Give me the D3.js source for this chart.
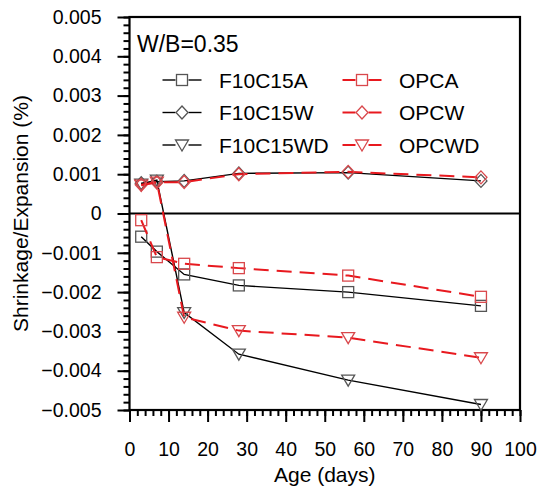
<!DOCTYPE html>
<html>
<head>
<meta charset="utf-8">
<script src="https://cdn.jsdelivr.net/npm/d3@7"></script>
<style>
  body { margin: 0; background: #fff; }
  text { font-family: "Liberation Sans", Arial, sans-serif; fill: #000; }
</style>
</head>
<body>
<svg width="540" height="490"></svg>
<script>
// ages in days
var days = [3, 7, 14, 28, 56, 90];

// shrinkage / expansion (%) per mix
var F10C15A  = [-0.00059, -0.00097, -0.00155, -0.00183, -0.00200, -0.00235];
var F10C15W  = [0.00077, 0.00081, 0.00083, 0.00102, 0.00104, 0.00083];
var F10C15WD = [0.00075, 0.00085, -0.00252, -0.00358, -0.00424, -0.00486];
var OPCA     = [-0.00017, -0.00111, -0.00128, -0.00139, -0.00158, -0.00212];
var OPCW     = [0.00073, 0.00079, 0.00080, 0.00100, 0.00106, 0.00092];
var OPCWD    = [0.00072, 0.00080, -0.00264, -0.00298, -0.00316, -0.00367];

var xTicks = [0, 10, 20, 30, 40, 50, 60, 70, 80, 90, 100];
var yTicks = [0.005, 0.004, 0.003, 0.002, 0.001, 0, -0.001, -0.002, -0.003, -0.004, -0.005];

var series = [
  {name: "F10C15A",  values: F10C15A,  color: "#000", mark: "#555", shape: "square",   dash: null},
  {name: "F10C15W",  values: F10C15W,  color: "#000", mark: "#555", shape: "diamond",  dash: null},
  {name: "F10C15WD", values: F10C15WD, color: "#000", mark: "#555", shape: "triangle", dash: null},
  {name: "OPCA",     values: OPCA,     color: "#e8191f", mark: "#d9484c", shape: "square",   dash: "15,8"},
  {name: "OPCW",     values: OPCW,     color: "#e8191f", mark: "#d9484c", shape: "diamond",  dash: "15,8"},
  {name: "OPCWD",    values: OPCWD,    color: "#e8191f", mark: "#d9484c", shape: "triangle", dash: "15,8"}
];

var svg = d3.select("svg"),
    margin = {top: 17, right: 20, bottom: 80, left: 129.5},
    width = +svg.attr("width") - margin.left - margin.right,
    height = +svg.attr("height") - margin.top - margin.bottom;

var x = d3.scaleLinear().domain([0, 100]).range([0, width]),
    y = d3.scaleLinear().domain([-0.005, 0.005]).range([height, 0]);

var g = svg.append("g")
    .attr("transform", "translate(" + margin.left + "," + margin.top + ")");

/* minor ticks first, then major ticks with labels */
g.append("g")
    .attr("transform", "translate(0," + height + ")")
    .call(d3.axisBottom(x).tickValues(d3.range(0, 101, 2)).tickSize(6).tickFormat(""))
    .call(function(a) { a.select(".domain").remove(); });

g.append("g")
    .call(d3.axisLeft(y).tickValues(d3.range(-0.005, 0.00501, 0.0002)).tickSize(6).tickFormat(""))
    .call(function(a) { a.select(".domain").remove(); });

var fmt = d3.format(".3f");

var xAxis = g.append("g")
    .attr("transform", "translate(0," + height + ")")
    .call(d3.axisBottom(x).tickValues(xTicks).tickSize(12).tickPadding(20));
xAxis.selectAll("text").style("font-size", "19.5px");

var yAxis = g.append("g")
    .call(d3.axisLeft(y).tickValues(yTicks).tickSize(12).tickPadding(16)
      .tickFormat(function(d) { return Math.abs(d) < 1e-9 ? "0" : fmt(d); }));
yAxis.selectAll("text").style("font-size", "19.5px");

g.selectAll(".tick line").attr("stroke-width", 2);
g.selectAll(".domain").remove();

// frame and zero line
g.append("rect")
    .attr("width", width).attr("height", height)
    .attr("fill", "none").attr("stroke", "#000").attr("stroke-width", 2.2);

g.append("line")
    .attr("x1", 0).attr("x2", width)
    .attr("y1", y(0)).attr("y2", y(0))
    .attr("stroke", "#000").attr("stroke-width", 2);

// axis titles
svg.append("text")
    .attr("x", margin.left + width / 2).attr("y", 482)
    .attr("text-anchor", "middle").style("font-size", "21px")
    .text("Age (days)");

svg.append("text")
    .attr("transform", "translate(28," + (margin.top + height / 2) + ") rotate(-90)")
    .attr("text-anchor", "middle").style("font-size", "21px")
    .text("Shrinkage/Expansion (%)");

function drawMarker(sel, shape, cx, cy, stroke, fill) {
  var s = 5.5;
  if (shape === "square") {
    sel.append("rect").attr("x", cx - s).attr("y", cy - s)
      .attr("width", 2 * s).attr("height", 2 * s);
  } else if (shape === "diamond") {
    sel.append("path").attr("d", "M" + cx + "," + (cy - 6.5) + "L" + (cx + 6) + "," + cy +
      "L" + cx + "," + (cy + 6.5) + "L" + (cx - 6) + "," + cy + "Z");
  } else {
    sel.append("path").attr("d", "M" + (cx - 6.5) + "," + (cy - 5) + "L" + (cx + 6.5) + "," + (cy - 5) +
      "L" + cx + "," + (cy + 6) + "Z");
  }
  sel.selectAll("*").attr("stroke", stroke).attr("stroke-width", 1.3).attr("fill", fill);
}

var line = d3.line()
    .x(function(d, i) { return x(days[i]); })
    .y(function(d) { return y(d); });

series.forEach(function(s) {
  g.append("path")
    .attr("d", line(s.values))
    .attr("fill", "none")
    .attr("stroke", s.color)
    .attr("stroke-width", s.dash ? 2 : 1.4)
    .attr("stroke-dasharray", s.dash);
  s.values.forEach(function(v, i) {
    drawMarker(g.append("g"), s.shape, x(days[i]), y(v), s.mark, "none");
  });
});

// legend
svg.append("text")
    .attr("x", 137).attr("y", 52)
    .style("font-size", "23px")
    .text("W/B=0.35");

var rowY = [80, 112.5, 145];
series.forEach(function(s, i) {
  var col = i < 3 ? 0 : 1,
      row = i % 3,
      lx = col === 0 ? 162.5 : 342.5,
      ly = rowY[row],
      lg = svg.append("g");
  lg.append("line").attr("x1", lx).attr("x2", lx + 13).attr("y1", ly).attr("y2", ly)
    .attr("stroke", s.color).attr("stroke-width", s.dash ? 2 : 1.4);
  lg.append("line").attr("x1", lx + 26).attr("x2", lx + 39).attr("y1", ly).attr("y2", ly)
    .attr("stroke", s.color).attr("stroke-width", s.dash ? 2 : 1.4);
  drawMarker(lg.append("g"), s.shape, lx + 19.5, ly, s.mark, "none");
  lg.append("text")
    .attr("x", col === 0 ? 219 : 399).attr("y", ly + 7.5)
    .style("font-size", "21px")
    .text(s.name);
});
</script>
</body>
</html>
